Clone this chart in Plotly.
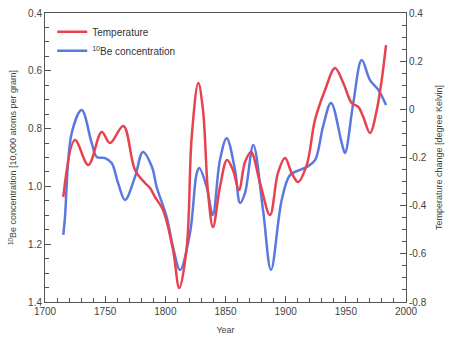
import plotly.graph_objects as go

# Temperature change (right axis, degree Kelvin)
temp_years = [1715.2, 1724.9, 1736.0, 1747.1, 1754.0, 1765.1, 1774.8, 1783.1, 1787.3, 1791.4,
              1798.1, 1806.4, 1811.6, 1817.8, 1821.9, 1827.4, 1831.3, 1835.5, 1839.6, 1845.4,
              1851.3, 1856.2, 1861.2, 1866.2, 1871.2, 1878.7, 1887.0, 1893.6, 1899.5, 1905.0,
              1910.3, 1917.5, 1924.4, 1932.7, 1941.0, 1947.9, 1954.9, 1960.4, 1964.5, 1970.1,
              1975.7, 1979.8, 1983.4]
temp_vals = [-0.364, -0.127, -0.231, -0.094, -0.140, -0.069, -0.252, -0.306, -0.327, -0.364,
             -0.418, -0.584, -0.742, -0.572, -0.115, 0.109, -0.003, -0.347, -0.489, -0.322,
             -0.210, -0.252, -0.335, -0.219, -0.177, -0.306, -0.439, -0.264, -0.202, -0.264,
             -0.302, -0.231, -0.044, 0.080, 0.172, 0.109, 0.026, 0.010, -0.032, -0.098,
             -0.003, 0.122, 0.267]

# 10Be concentration (left axis, 10,000 atoms per gram)
be_years = [1715.2, 1716.6, 1722.2, 1730.5, 1738.8, 1743.0, 1749.9, 1755.4, 1760.7, 1766.5,
            1774.8, 1781.4, 1788.9, 1792.8, 1801.1, 1806.4, 1812.2, 1820.5, 1826.1, 1828.2,
            1834.4, 1839.4, 1845.4, 1851.0, 1857.9, 1862.1, 1866.2, 1873.1, 1881.2, 1887.8,
            1896.7, 1903.6, 1911.9, 1917.5, 1924.4, 1931.0, 1937.7, 1946.6, 1949.3, 1956.2,
            1963.2, 1970.1, 1977.0, 1983.4]
be_vals = [1.168, 1.106, 0.815, 0.736, 0.850, 0.898, 0.902, 0.919, 0.988, 1.047,
           0.967, 0.881, 0.933, 1.002, 1.106, 1.210, 1.289, 1.161, 0.954, 0.936,
           1.002, 1.099, 0.909, 0.833, 0.943, 1.057, 1.023, 0.857, 1.082, 1.289,
           1.047, 0.961, 0.943, 0.933, 0.909, 0.794, 0.711, 0.850, 0.884, 0.711,
           0.563, 0.632, 0.666, 0.718]

left_ticks = [0.4, 0.6, 0.8, 1.0, 1.2, 1.4]
right_ticks = [0.4, 0.2, 0.0, -0.2, -0.4, -0.6, -0.8]
right_labels = ["0.4", "0.2", "0", "-0.2", "-0.4", "-0.6", "-0.8"]
x_ticks = [1700, 1750, 1800, 1850, 1900, 1950, 2000]

RED = "#e8414f"
BLUE = "#5a78e0"
AX = "#555555"
FONT = "Liberation Sans, Arial, sans-serif"

fig = go.Figure()
fig.add_trace(go.Scatter(x=temp_years, y=temp_vals, mode="lines", name="Temperature",
                         line=dict(color=RED, width=2.5, shape="spline", smoothing=1.0),
                         yaxis="y2"))
fig.add_trace(go.Scatter(x=be_years, y=be_vals, mode="lines",
                         name="<sup>10</sup>Be concentration",
                         line=dict(color=BLUE, width=2.5, shape="spline", smoothing=1.0),
                         yaxis="y"))

fig.update_layout(
    width=450, height=343,
    margin=dict(l=45, r=44, t=13, b=41),
    paper_bgcolor="white", plot_bgcolor="white",
    font=dict(family=FONT, size=10, color="#444444"),
    showlegend=True,
    legend=dict(x=0.02, y=0.985, xanchor="left", yanchor="top",
                bgcolor="rgba(0,0,0,0)", font=dict(size=10, color="#333333"),
                tracegroupgap=0, itemwidth=30),
    xaxis=dict(range=[1700, 2000], tickvals=x_ticks, ticks="inside", ticklen=6,
               tickcolor=AX, showline=True, linecolor=AX, linewidth=1, mirror=True,
               showgrid=False, zeroline=False, automargin=False,
               minor=dict(dtick=10, ticks="inside", ticklen=4, tickcolor=AX, showgrid=False),
               title=dict(text="Year", font=dict(size=9), standoff=10),
               tickfont=dict(size=10)),
    yaxis=dict(range=[1.4, 0.4], tickvals=left_ticks, tickformat=".1f",
               ticks="inside", ticklen=6, tickcolor=AX,
               showline=True, linecolor=AX, linewidth=1,
               showgrid=False, zeroline=False, automargin=False,
               minor=dict(dtick=0.05, ticks="inside", ticklen=4, tickcolor=AX, showgrid=False),
               title=dict(text="<sup>10</sup>Be concentration [10,000 atoms per gram]",
                          font=dict(size=9), standoff=9),
               tickfont=dict(size=10)),
    yaxis2=dict(range=[-0.8, 0.4], overlaying="y", side="right",
                tickvals=right_ticks, ticktext=right_labels,
                ticks="inside", ticklen=6, tickcolor=AX,
                showline=True, linecolor=AX, linewidth=1,
                showgrid=False, zeroline=False, automargin=False,
                minor=dict(dtick=0.05, ticks="inside", ticklen=4, tickcolor=AX, showgrid=False),
                title=dict(text="Temperature change [degree Kelvin]",
                           font=dict(size=9), standoff=10),
                tickfont=dict(size=10)),
)

fig.write_html("out.html")
